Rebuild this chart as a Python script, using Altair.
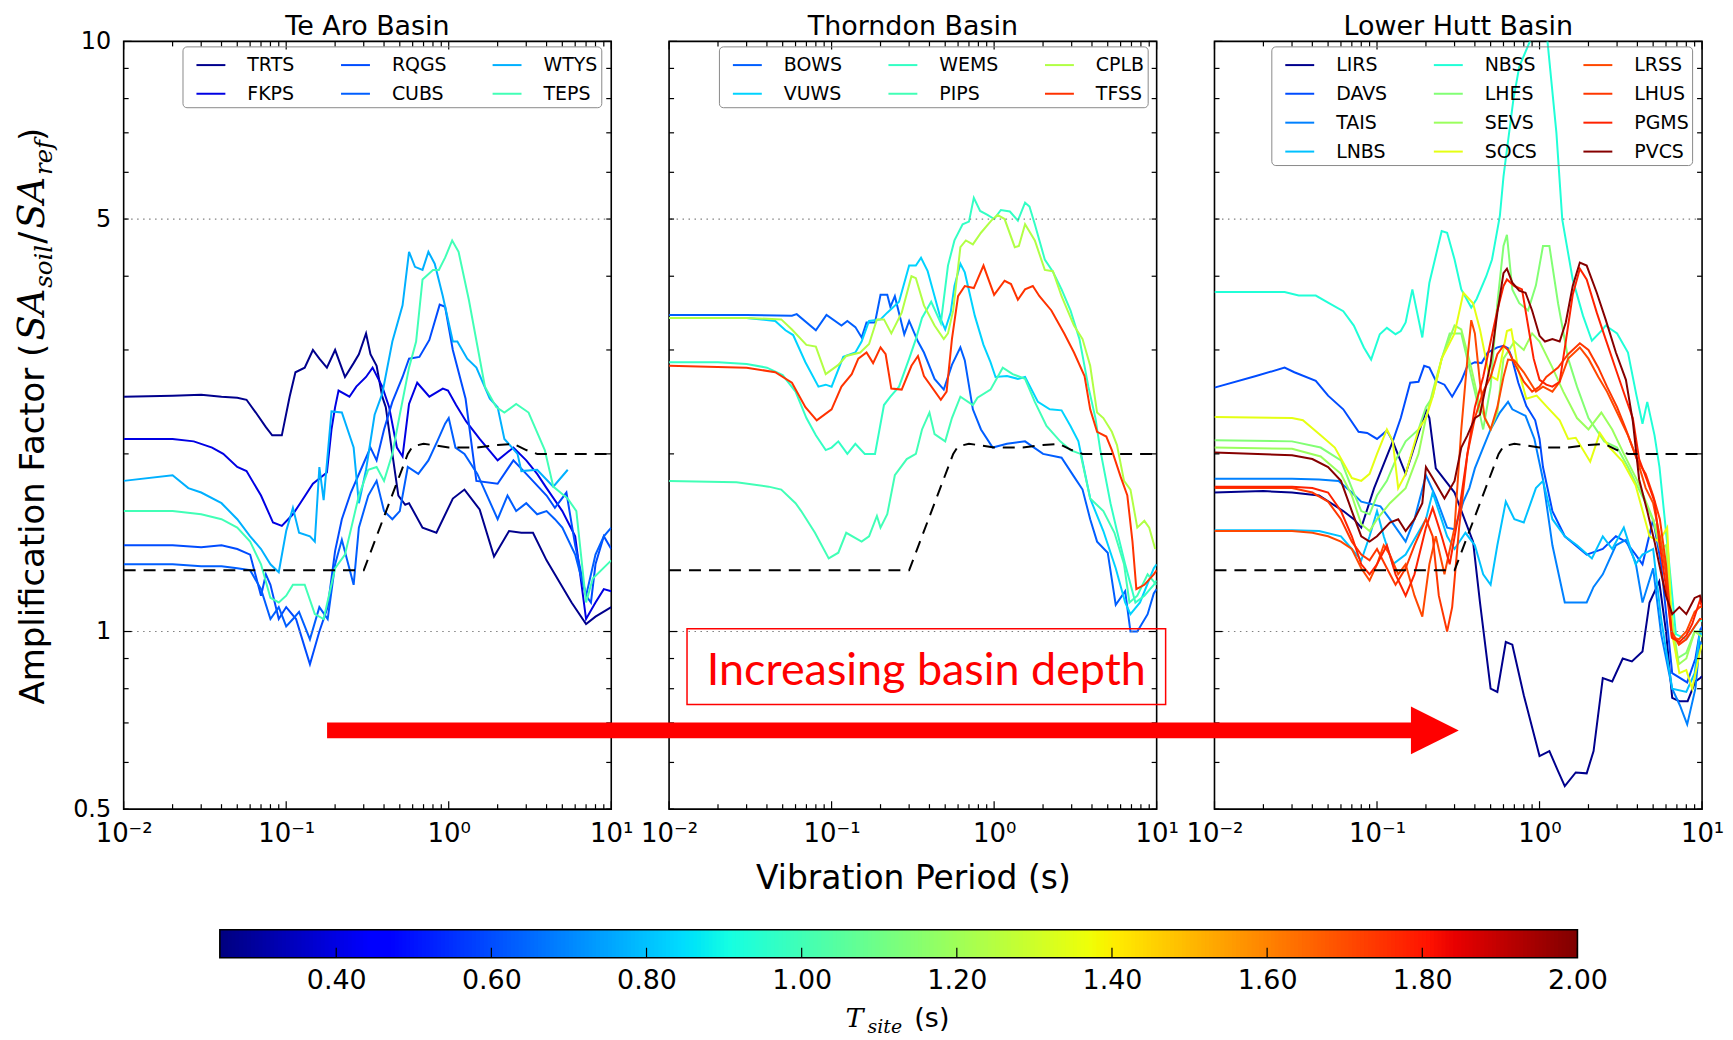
import altair as alt
import numpy as np
import pandas as pd

# ------------------------------------------------------------------ data
# (period [s], amplification factor)
TRTS = [(0.01,2.5),(0.02,2.51),(0.03,2.52),(0.04,2.5),(0.05,2.49),(0.057,2.47),(0.065,2.35),(0.075,2.22),(0.082,2.15),(0.094,2.15),(0.105,2.5),(0.114,2.75),(0.13,2.8),(0.146,3.0),(0.16,2.9),(0.178,2.8),(0.2,3.0),(0.23,2.7),(0.26,2.85),(0.28,2.95),(0.31,3.2),(0.33,2.95),(0.36,2.82),(0.39,2.5),(0.41,2.4),(0.45,2.0),(0.49,1.7),(0.54,1.64),(0.57,1.65),(0.69,1.5),(0.84,1.47),(1.06,1.68),(1.25,1.74),(1.55,1.61),(1.9,1.34),(2.35,1.48),(2.8,1.47),(3.3,1.47),(4.0,1.32),(5.7,1.12),(7.0,1.03),(8.0,1.06),(10.0,1.1)]
FKPS = [(0.01,2.12),(0.02,2.12),(0.027,2.1),(0.035,2.05),(0.041,2.0),(0.05,1.9),(0.057,1.87),(0.07,1.7),(0.083,1.53),(0.094,1.51),(0.11,1.58),(0.122,1.65),(0.146,1.78),(0.178,1.86),(0.19,2.2),(0.2,2.4),(0.21,2.56),(0.245,2.5),(0.27,2.6),(0.31,2.7),(0.34,2.8),(0.39,2.6),(0.43,2.4),(0.48,2.05),(0.52,1.98),(0.57,2.43),(0.64,2.64),(0.76,2.5),(0.92,2.58),(0.99,2.56),(1.11,2.42),(1.28,2.27),(1.55,2.12),(2.0,1.95),(2.5,2.05),(3.0,1.95),(3.5,1.85),(4.0,1.75),(5.0,1.6),(6.0,1.45),(7.0,1.05),(8.0,1.12),(9.0,1.18),(10.0,1.17)]
RQGS = [(0.01,1.4),(0.02,1.4),(0.03,1.39),(0.04,1.4),(0.05,1.38),(0.06,1.35),(0.07,1.15),(0.075,1.25),(0.08,1.2),(0.09,1.05),(0.1,1.1),(0.115,1.05),(0.13,0.94),(0.14,0.88),(0.16,1.0),(0.18,1.1),(0.2,1.37),(0.22,1.55),(0.25,1.72),(0.3,1.93),(0.33,2.05),(0.36,1.95),(0.4,2.2),(0.45,2.45),(0.52,2.7),(0.57,2.9),(0.66,2.92),(0.76,3.12),(0.88,3.58),(0.95,3.55),(1.06,3.0),(1.27,2.48),(1.48,1.8),(2.0,1.78),(2.5,1.95),(3.0,1.85),(4.0,1.7),(4.5,1.62),(5.3,1.72),(6.0,1.4),(7.0,1.15),(7.5,1.12),(8.0,1.3),(9.0,1.45),(10.0,1.38)]
CUBS = [(0.01,1.3),(0.02,1.3),(0.03,1.29),(0.04,1.29),(0.05,1.28),(0.06,1.27),(0.07,1.18),(0.08,1.05),(0.09,1.1),(0.1,1.02),(0.11,1.05),(0.12,1.08),(0.14,0.97),(0.16,1.1),(0.18,1.05),(0.2,1.3),(0.22,1.43),(0.26,1.2),(0.28,1.5),(0.32,1.7),(0.36,1.8),(0.4,1.6),(0.45,1.55),(0.5,1.6),(0.56,1.9),(0.65,1.85),(0.75,1.95),(0.85,2.1),(0.95,2.25),(1.0,2.3),(1.1,2.05),(1.25,2.0),(1.5,1.85),(2.0,1.55),(2.3,1.7),(2.6,1.6),(3.0,1.65),(3.5,1.58),(4.0,1.6),(4.5,1.55),(5.0,1.5),(6.0,1.35),(7.0,1.15),(8.0,1.35),(9.0,1.45),(10.0,1.5)]
WTYS = [(0.01,1.8),(0.02,1.84),(0.025,1.75),(0.03,1.72),(0.04,1.65),(0.05,1.55),(0.06,1.45),(0.07,1.38),(0.08,1.3),(0.09,1.26),(0.1,1.48),(0.11,1.62),(0.12,1.47),(0.14,1.45),(0.15,1.42),(0.16,1.9),(0.17,1.67),(0.19,2.36),(0.22,2.35),(0.26,2.05),(0.28,1.65),(0.31,1.88),(0.35,2.33),(0.39,2.53),(0.45,3.1),(0.52,3.57),(0.57,4.4),(0.62,4.15),(0.69,4.1),(0.75,4.4),(0.82,4.2),(0.92,3.7),(1.06,3.1),(1.13,3.1),(1.3,2.9),(1.48,2.8),(1.79,2.48),(2.0,2.4),(2.2,2.12),(2.65,2.0),(2.8,1.87),(3.5,1.88),(4.4,1.76),(5.4,1.88)]
TEPS = [(0.01,1.6),(0.02,1.6),(0.03,1.58),(0.04,1.55),(0.05,1.5),(0.06,1.42),(0.07,1.3),(0.08,1.14),(0.09,1.12),(0.1,1.15),(0.11,1.2),(0.13,1.2),(0.15,1.07),(0.17,1.05),(0.2,1.28),(0.23,1.35),(0.28,1.7),(0.32,1.88),(0.36,1.9),(0.4,1.8),(0.45,2.0),(0.5,2.33),(0.57,2.8),(0.63,3.1),(0.69,3.95),(0.8,4.1),(0.87,4.1),(0.95,4.3),(1.05,4.6),(1.15,4.4),(1.33,3.65),(1.5,3.05),(1.67,2.6),(1.96,2.4),(2.2,2.35),(2.6,2.43),(3.1,2.35),(3.9,2.03),(4.4,1.76),(5.4,1.68),(6.1,1.6),(7.0,1.12),(7.7,1.23),(10.0,1.32)]

BOWS = [(0.01,3.44),(0.03,3.44),(0.057,3.43),(0.061,3.45),(0.08,3.24),(0.093,3.44),(0.115,3.3),(0.125,3.36),(0.14,3.28),(0.153,3.15),(0.164,3.34),(0.185,3.34),(0.2,3.72),(0.22,3.72),(0.23,3.55),(0.245,3.7),(0.28,3.19),(0.3,3.36),(0.34,3.1),(0.37,2.97),(0.43,2.68),(0.49,2.57),(0.55,2.83),(0.62,3.03),(0.66,2.88),(0.74,2.38),(0.83,2.2),(0.98,2.05),(1.2,2.08),(1.55,2.1),(2.0,2.0),(2.6,1.97),(3.1,1.83),(3.5,1.74),(3.9,1.55),(4.3,1.42),(5.0,1.36),(5.6,1.11),(6.4,1.17),(6.9,1.0),(7.6,1.0),(8.8,1.07),(9.6,1.16),(10.0,1.18)]
VUWS = [(0.01,3.4),(0.03,3.4),(0.045,3.36),(0.052,3.24),(0.058,3.18),(0.069,2.86),(0.083,2.6),(0.092,2.62),(0.1,2.6),(0.118,2.92),(0.14,2.97),(0.153,3.1),(0.17,3.36),(0.2,3.38),(0.22,3.47),(0.26,3.62),(0.3,4.17),(0.33,4.17),(0.355,4.3),(0.39,4.08),(0.43,3.7),(0.47,3.38),(0.5,3.25),(0.54,3.47),(0.57,3.85),(0.62,4.2),(0.66,4.06),(0.76,3.43),(0.86,3.06),(0.95,2.86),(1.02,2.7),(1.2,2.71),(1.4,2.68),(1.55,2.7),(1.86,2.45),(2.2,2.38),(2.6,2.37),(2.95,2.23),(3.3,2.1),(3.9,1.68),(4.7,1.48),(5.6,1.28),(6.4,1.12),(6.9,1.07),(7.9,1.12),(9.6,1.28),(10.0,1.3)]
WEMS = [(0.01,2.86),(0.02,2.86),(0.03,2.84),(0.04,2.8),(0.05,2.72),(0.06,2.55),(0.07,2.3),(0.08,2.15),(0.092,2.03),(0.1,2.05),(0.11,2.1),(0.125,2.0),(0.14,2.08),(0.16,2.0),(0.185,2.0),(0.21,2.42),(0.23,2.5),(0.26,2.6),(0.3,2.9),(0.33,3.13),(0.36,3.4),(0.41,3.62),(0.47,3.33),(0.52,4.17),(0.57,4.6),(0.64,4.9),(0.7,4.95),(0.75,5.43),(0.82,5.16),(0.91,5.08),(1.0,5.0),(1.1,5.18),(1.25,5.15),(1.4,4.97),(1.55,5.33),(1.65,5.25),(1.78,4.9),(2.05,4.27),(2.3,4.07),(2.6,3.8),(2.95,3.5),(3.35,3.13),(3.8,2.6),(4.2,2.3),(4.5,2.03),(5.2,1.65),(5.7,1.48),(6.4,1.3),(7.4,1.12),(8.4,1.15),(9.6,1.2),(10.0,1.22)]
PIPS = [(0.01,1.8),(0.026,1.79),(0.041,1.76),(0.049,1.74),(0.06,1.65),(0.065,1.6),(0.079,1.47),(0.096,1.33),(0.11,1.36),(0.123,1.47),(0.153,1.42),(0.17,1.45),(0.19,1.57),(0.2,1.5),(0.22,1.58),(0.245,1.84),(0.29,1.96),(0.33,2.0),(0.36,2.2),(0.4,2.35),(0.43,2.16),(0.5,2.1),(0.55,2.3),(0.62,2.5),(0.74,2.42),(0.79,2.49),(0.95,2.57),(1.13,2.8),(1.3,2.73),(1.55,2.68),(1.78,2.45),(2.1,2.23),(2.55,2.1),(2.95,2.03),(3.4,2.0),(3.9,1.68),(4.7,1.6),(5.5,1.47),(6.3,1.3),(6.8,1.12),(7.6,1.15),(8.8,1.25),(10.0,1.2)]
CPLB = [(0.01,3.4),(0.03,3.4),(0.049,3.38),(0.057,3.25),(0.07,3.06),(0.08,3.04),(0.092,2.73),(0.11,2.83),(0.123,2.93),(0.15,2.97),(0.17,3.07),(0.19,3.38),(0.21,3.38),(0.233,3.2),(0.27,3.47),(0.31,4.0),(0.33,3.97),(0.37,3.57),(0.43,3.3),(0.49,3.13),(0.52,3.2),(0.56,3.5),(0.62,4.48),(0.67,4.6),(0.74,4.53),(0.83,4.74),(0.96,4.97),(1.05,5.08),(1.16,5.0),(1.34,4.48),(1.42,4.5),(1.55,4.9),(1.78,4.6),(2.05,4.1),(2.3,4.08),(2.6,3.7),(3.1,3.3),(3.5,3.13),(3.9,2.82),(4.3,2.35),(4.7,2.3),(5.3,2.18),(5.7,2.07),(6.3,1.8),(6.9,1.74),(7.6,1.5),(8.4,1.54),(9.0,1.5),(9.8,1.38)]
TFSS = [(0.01,2.82),(0.03,2.8),(0.045,2.75),(0.057,2.64),(0.069,2.4),(0.081,2.28),(0.1,2.38),(0.115,2.6),(0.133,2.73),(0.146,2.9),(0.164,2.97),(0.18,2.85),(0.2,3.03),(0.215,2.95),(0.233,2.58),(0.27,2.57),(0.31,2.82),(0.34,2.93),(0.37,2.71),(0.47,2.47),(0.51,2.55),(0.55,3.13),(0.6,3.7),(0.66,3.85),(0.75,3.82),(0.86,4.17),(1.0,3.72),(1.16,3.93),(1.27,3.88),(1.4,3.65),(1.55,3.8),(1.73,3.85),(1.9,3.7),(2.25,3.5),(2.7,3.2),(3.1,2.97),(3.6,2.71),(3.9,2.38),(4.3,2.18),(4.9,2.14),(5.3,2.03),(6.0,1.83),(6.6,1.7),(7.1,1.42),(7.5,1.18),(8.4,1.2),(9.6,1.25),(10.0,1.27)]

LIRS = [(0.01,1.72),(0.02,1.73),(0.03,1.72),(0.044,1.7),(0.062,1.6),(0.072,1.55),(0.08,1.5),(0.096,1.75),(0.125,2.1),(0.15,1.85),(0.2,2.37),(0.21,2.3),(0.23,1.89),(0.3,1.72),(0.35,1.535),(0.39,1.42),(0.43,1.12),(0.5,0.8),(0.55,0.79),(0.62,0.96),(0.68,0.95),(0.8,0.78),(1.0,0.615),(1.15,0.627),(1.3,0.58),(1.43,0.547),(1.67,0.577),(1.95,0.575),(2.15,0.627),(2.45,0.834),(2.8,0.823),(3.25,0.9),(3.7,0.89),(4.3,0.925),(4.75,1.12),(5.45,1.215),(6.0,1.0),(6.55,0.772),(7.25,0.762),(8.15,0.762),(9.1,0.823),(9.75,0.834),(10.0,0.84)]
DAVS = [(0.01,2.59),(0.018,2.71),(0.027,2.8),(0.031,2.75),(0.042,2.66),(0.05,2.51),(0.062,2.38),(0.077,2.18),(0.087,2.17),(0.1,2.12),(0.115,2.19),(0.125,2.1),(0.14,2.3),(0.16,2.64),(0.18,2.65),(0.195,2.82),(0.21,2.8),(0.23,2.66),(0.26,2.62),(0.29,2.5),(0.33,2.66),(0.36,2.82),(0.4,2.86),(0.44,2.85),(0.48,2.97),(0.55,3.03),(0.6,3.05),(0.64,3.02),(0.67,2.93),(0.74,2.64),(0.83,2.41),(0.94,2.28),(1.0,2.12),(1.05,1.9),(1.2,1.6),(1.43,1.45),(1.95,1.35),(2.45,1.38),(2.95,1.45),(3.4,1.42),(3.9,1.35),(4.3,1.3),(5.0,1.55),(5.6,1.3),(6.55,0.85),(8.1,0.82),(9.1,0.9),(9.7,1.0),(10.0,1.02)]
TAIS = [(0.01,1.815),(0.03,1.815),(0.044,1.81),(0.058,1.8),(0.07,1.72),(0.08,1.66),(0.105,1.63),(0.12,1.55),(0.15,1.42),(0.17,1.55),(0.2,1.84),(0.23,1.69),(0.27,1.5),(0.3,1.49),(0.34,1.66),(0.37,1.75),(0.4,1.89),(0.45,2.05),(0.5,2.2),(0.57,2.35),(0.64,2.45),(0.68,2.38),(0.82,2.32),(0.93,2.12),(1.05,1.81),(1.2,1.4),(1.43,1.12),(1.95,1.12),(2.15,1.19),(2.45,1.25),(2.95,1.4),(3.4,1.43),(3.9,1.31),(4.3,1.12),(5.0,1.28),(5.6,0.99),(6.55,0.8),(7.3,0.75),(8.1,0.696),(9.1,0.8),(9.7,0.96),(10.0,0.95)]
LNBS = [(0.01,1.485),(0.03,1.485),(0.044,1.48),(0.06,1.45),(0.07,1.38),(0.08,1.32),(0.09,1.45),(0.1,1.6),(0.11,1.45),(0.125,1.3),(0.15,1.35),(0.2,1.55),(0.22,1.72),(0.27,1.45),(0.3,1.38),(0.35,1.47),(0.4,1.4),(0.45,1.25),(0.5,1.2),(0.55,1.4),(0.62,1.66),(0.7,1.55),(0.8,1.53),(0.95,1.75),(1.05,1.8),(1.2,1.55),(1.43,1.45),(1.7,1.4),(2.1,1.33),(2.45,1.45),(2.8,1.38),(3.3,1.5),(3.9,1.3),(4.3,1.35),(5.0,1.38),(5.6,1.05),(6.55,0.8),(8.0,0.79),(9.0,0.85),(9.7,1.0),(10.0,0.98)]
NBSS = [(0.01,3.76),(0.027,3.76),(0.033,3.71),(0.042,3.71),(0.05,3.61),(0.062,3.49),(0.072,3.3),(0.083,3.03),(0.092,2.89),(0.104,3.19),(0.115,3.27),(0.13,3.19),(0.14,3.23),(0.15,3.34),(0.165,3.8),(0.19,3.15),(0.21,3.9),(0.25,4.77),(0.27,4.74),(0.3,4.27),(0.33,3.8),(0.38,3.54),(0.41,3.66),(0.47,4.0),(0.51,4.27),(0.57,5.06),(0.6,5.9),(0.69,7.96),(0.75,9.06),(0.94,10.5),(1.0,12.0),(1.1,10.5),(1.27,7.0),(1.38,4.99),(1.6,3.95),(1.85,3.43),(2.1,3.11),(2.45,3.25),(2.55,3.3),(3.0,3.2),(3.5,2.97),(3.95,2.51),(4.3,2.25),(4.6,2.45),(5.1,2.15),(5.47,1.9),(6.2,1.35),(6.9,0.99),(8.0,0.97),(9.7,1.05),(10.0,1.04)]
LHES = [(0.01,2.11),(0.03,2.1),(0.045,2.05),(0.06,1.95),(0.07,1.75),(0.08,1.6),(0.09,1.58),(0.1,1.7),(0.115,1.8),(0.13,1.95),(0.15,2.1),(0.18,2.2),(0.2,2.4),(0.22,2.5),(0.25,2.9),(0.28,3.2),(0.33,3.2),(0.4,2.55),(0.45,2.2),(0.5,2.6),(0.55,3.6),(0.6,4.5),(0.63,4.7),(0.68,3.8),(0.75,3.6),(0.85,3.5),(0.95,3.86),(1.05,4.5),(1.15,4.5),(1.3,3.6),(1.5,2.9),(1.7,2.6),(2.0,2.3),(2.5,2.1),(3.0,2.05),(3.5,1.9),(4.5,1.65),(5.5,1.45),(6.0,1.3),(7.0,0.9),(8.0,0.92),(9.0,1.0),(10.0,1.0)]
SEVS = [(0.01,2.05),(0.03,2.04),(0.045,1.98),(0.06,1.85),(0.07,1.7),(0.08,1.52),(0.09,1.48),(0.1,1.55),(0.12,1.65),(0.15,1.75),(0.18,2.0),(0.2,2.3),(0.22,2.55),(0.25,2.9),(0.3,3.3),(0.33,3.25),(0.38,2.8),(0.43,2.4),(0.5,2.2),(0.55,2.35),(0.6,2.9),(0.7,3.1),(0.8,3.0),(0.9,3.2),(1.0,3.1),(1.2,2.8),(1.4,2.55),(1.7,2.3),(2.0,2.2),(2.4,2.35),(2.8,2.2),(3.3,2.0),(4.0,1.8),(5.0,1.55),(5.5,1.38),(6.0,1.4),(6.5,1.05),(7.2,0.88),(8.0,0.9),(9.0,1.0),(10.0,0.98)]
SOCS = [(0.01,2.31),(0.03,2.3),(0.035,2.28),(0.045,2.15),(0.055,2.05),(0.07,1.82),(0.08,1.8),(0.09,1.85),(0.1,2.0),(0.115,2.2),(0.125,2.1),(0.135,1.75),(0.15,1.85),(0.18,2.2),(0.2,2.3),(0.22,2.5),(0.25,2.9),(0.3,3.2),(0.34,3.75),(0.39,3.6),(0.43,3.25),(0.49,2.72),(0.55,2.67),(0.63,3.23),(0.67,3.25),(0.74,2.78),(0.83,2.48),(0.96,2.51),(1.1,2.41),(1.33,2.28),(1.5,2.12),(1.67,2.13),(2.05,1.94),(2.35,2.17),(2.7,2.05),(3.25,1.94),(3.9,1.77),(4.75,1.45),(5.45,1.42),(6.1,1.5),(6.55,0.99),(7.25,0.85),(8.0,0.86),(8.7,0.8),(9.7,0.925),(10.0,0.95)]
LRSS = [(0.01,1.48),(0.03,1.48),(0.04,1.47),(0.05,1.45),(0.06,1.42),(0.07,1.38),(0.08,1.28),(0.09,1.22),(0.1,1.3),(0.11,1.4),(0.12,1.35),(0.135,1.25),(0.15,1.3),(0.17,1.15),(0.19,1.06),(0.21,1.3),(0.23,1.45),(0.26,1.25),(0.3,1.5),(0.33,2.2),(0.36,2.9),(0.38,3.37),(0.4,3.2),(0.43,2.64),(0.46,2.3),(0.5,2.2),(0.55,2.4),(0.6,2.7),(0.64,2.89),(0.7,2.88),(0.8,2.75),(0.95,2.55),(1.05,2.6),(1.2,2.55),(1.33,2.65),(1.5,2.9),(1.77,3.03),(2.0,2.9),(2.3,2.7),(2.6,2.55),(3.0,2.35),(3.5,2.15),(4.0,1.95),(4.5,1.75),(5.0,1.65),(5.5,1.45),(6.0,1.25),(6.5,0.98),(7.2,0.97),(8.0,1.0),(9.0,1.08),(9.7,1.1),(10.0,1.1)]
LHUS = [(0.01,1.75),(0.03,1.75),(0.04,1.72),(0.05,1.66),(0.06,1.55),(0.07,1.42),(0.08,1.35),(0.09,1.32),(0.1,1.38),(0.115,1.28),(0.13,1.2),(0.15,1.28),(0.17,1.4),(0.2,1.55),(0.22,1.45),(0.24,1.15),(0.27,1.0),(0.29,1.1),(0.32,1.5),(0.36,2.0),(0.4,2.3),(0.45,2.55),(0.5,2.7),(0.55,2.95),(0.6,3.05),(0.64,3.0),(0.7,2.85),(0.8,2.65),(0.9,2.55),(1.0,2.6),(1.1,2.7),(1.3,2.8),(1.5,2.95),(1.77,3.08),(2.0,3.0),(2.3,2.8),(2.6,2.6),(3.0,2.4),(3.4,2.2),(4.0,1.95),(4.5,1.85),(5.0,1.7),(5.5,1.55),(6.0,1.3),(6.5,1.0),(7.2,0.95),(8.0,0.97),(9.0,1.02),(9.7,1.05),(10.0,1.05)]
PGMS = [(0.01,1.76),(0.03,1.76),(0.04,1.75),(0.05,1.72),(0.06,1.6),(0.07,1.45),(0.08,1.3),(0.09,1.25),(0.1,1.3),(0.115,1.4),(0.13,1.25),(0.15,1.15),(0.17,1.25),(0.2,1.5),(0.22,1.62),(0.25,1.45),(0.28,1.3),(0.32,1.6),(0.36,2.0),(0.4,2.4),(0.45,2.7),(0.5,3.1),(0.55,3.5),(0.6,3.85),(0.63,3.95),(0.7,3.85),(0.78,3.8),(0.85,3.3),(0.92,2.9),(1.0,2.67),(1.1,2.62),(1.2,2.6),(1.33,2.65),(1.45,3.1),(1.6,3.72),(1.77,4.12),(1.95,3.95),(2.25,3.47),(2.55,3.13),(2.95,2.78),(3.4,2.48),(3.75,2.3),(4.1,1.96),(4.6,1.8),(5.1,1.66),(5.45,1.42),(6.0,1.19),(6.55,0.975),(7.25,0.96),(8.0,0.985),(8.7,1.03),(9.7,1.13),(10.0,1.1)]
PVCS = [(0.01,2.01),(0.03,1.99),(0.04,1.96),(0.05,1.9),(0.06,1.8),(0.07,1.6),(0.08,1.45),(0.09,1.42),(0.1,1.45),(0.12,1.53),(0.135,1.55),(0.15,1.48),(0.17,1.55),(0.19,1.65),(0.2,1.9),(0.22,1.82),(0.26,1.68),(0.3,1.8),(0.33,2.05),(0.36,2.15),(0.4,2.3),(0.43,2.33),(0.5,2.85),(0.55,3.47),(0.6,4.05),(0.63,4.12),(0.68,3.9),(0.75,3.78),(0.82,3.75),(0.9,3.5),(1.0,3.17),(1.08,3.1),(1.2,3.13),(1.33,3.1),(1.45,3.34),(1.6,3.85),(1.77,4.22),(1.95,4.17),(2.25,3.75),(2.55,3.38),(2.95,2.97),(3.4,2.67),(3.75,2.27),(4.1,1.81),(4.6,1.6),(5.1,1.42),(5.45,1.3),(6.0,1.15),(6.55,1.07),(7.25,1.1),(8.0,1.07),(9.0,1.14),(9.7,1.15),(10.0,1.12)]

# code-based design spectrum ratio (dashed black line), same in every panel
REF_CURVE = [(0.01,1.27),(0.3,1.27),(0.56,2.0),(0.6,2.06),(0.7,2.08),(0.8,2.07),(1.0,2.05),(1.5,2.05),(2.0,2.07),(2.5,2.08),(3.0,2.03),(3.5,2.0),(10.0,2.0)]

# site period of every station (sets its colour on the jet colour map)
T_SITE = {"TRTS":0.27,"FKPS":0.40,"RQGS":0.60,"CUBS":0.63,"WTYS":0.77,"TEPS":1.00,
          "BOWS":0.63,"VUWS":0.83,"WEMS":0.97,"PIPS":1.00,"CPLB":1.24,"TFSS":1.75,
          "LIRS":0.27,"DAVS":0.60,"TAIS":0.69,"LNBS":0.80,"NBSS":0.93,"LHES":1.14,
          "SEVS":1.19,"SOCS":1.35,"LRSS":1.71,"LHUS":1.74,"PGMS":1.78,"PVCS":1.99}

PANEL_TITLES = ["Te Aro Basin", "Thorndon Basin", "Lower Hutt Basin"]
TE_ARO = ["TRTS","FKPS","RQGS","CUBS","WTYS","TEPS"]
THORNDON = ["BOWS","VUWS","WEMS","PIPS","CPLB","TFSS"]
LOWER_HUTT = ["LIRS","DAVS","TAIS","LNBS","NBSS","LHES","SEVS","SOCS","LRSS","LHUS","PGMS","PVCS"]
CURVES = {"TRTS":TRTS,"FKPS":FKPS,"RQGS":RQGS,"CUBS":CUBS,"WTYS":WTYS,"TEPS":TEPS,
          "BOWS":BOWS,"VUWS":VUWS,"WEMS":WEMS,"PIPS":PIPS,"CPLB":CPLB,"TFSS":TFSS,
          "LIRS":LIRS,"DAVS":DAVS,"TAIS":TAIS,"LNBS":LNBS,"NBSS":NBSS,"LHES":LHES,
          "SEVS":SEVS,"SOCS":SOCS,"LRSS":LRSS,"LHUS":LHUS,"PGMS":PGMS,"PVCS":PVCS}

X_MAJOR = [0.01, 0.1, 1, 10]
X_MINOR = [round(k * 10.0 ** e, 4) for e in (-2, -1, 0) for k in range(2, 10)]
Y_MAJOR = [1, 10]
Y_MINOR = [0.5, 0.6, 0.7, 0.8, 0.9, 2, 3, 4, 5, 6, 7, 8, 9]
Y_LABELS = [0.5, 1, 5, 10]
Y_DOTTED = [1, 5]
CBAR_RANGE = [0.25, 2.0]
CBAR_TICKS = [0.4, 0.6, 0.8, 1.0, 1.2, 1.4, 1.6, 1.8, 2.0]

# ------------------------------------------------------------------ helpers
_JET = {"r": [(0, 0), (0.35, 0), (0.66, 1), (0.89, 1), (1, 0.5)],
        "g": [(0, 0), (0.125, 0), (0.375, 1), (0.64, 1), (0.91, 0), (1, 0)],
        "b": [(0, 0.5), (0.11, 1), (0.34, 1), (0.65, 0), (1, 0)]}


def jet(t):
    t = min(max(t, 0.0), 1.0)
    rgb = []
    for ch in "rgb":
        xs = [p[0] for p in _JET[ch]]
        ys = [p[1] for p in _JET[ch]]
        rgb.append(int(round(255 * float(np.interp(t, xs, ys)))))
    return "#%02x%02x%02x" % tuple(rgb)


def tcolor(T):
    return jet((T - CBAR_RANGE[0]) / (CBAR_RANGE[1] - CBAR_RANGE[0]))


FONT = "DejaVu Sans"
W, H = 489, 770
XS = alt.Scale(type="log", domain=[0.01, 10], nice=False)
YS = alt.Scale(type="log", domain=[0.5, 10], nice=False)
ONE = pd.DataFrame({"a": [0]})

X_LABEL_EXPR = ("datum.value < 0.05 ? '10\u207b\u00b2' : datum.value < 0.5 ? '10\u207b\u00b9' : "
                "datum.value < 5 ? '10\u2070' : '10\u00b9'")


def make_panel(idx, stations, legend_x):
    rows = []
    for name in stations:
        for p, a in CURVES[name]:
            rows.append({"station": name, "period": p, "amp": a})
    df = pd.DataFrame(rows)
    colors = [tcolor(T_SITE[s]) for s in stations]

    xaxis_kw = dict(values=X_MAJOR, labelExpr=X_LABEL_EXPR, ticks=False, tickSize=0, domain=False,
                    grid=False, labelFontSize=26, labelFont=FONT, labelPadding=11, labelFlush=False,
                    labelOverlap=False, labelColor="black")
    if idx == 1:
        xaxis_kw.update(title="Vibration Period (s)", titleFontSize=33, titleFont=FONT,
                        titleFontWeight="normal", titlePadding=17, titleColor="black")
    else:
        xaxis_kw.update(title=None)
    xenc = alt.X("period:Q", scale=XS, axis=alt.Axis(**xaxis_kw))

    if idx == 0:
        yenc = alt.Y("amp:Q", scale=YS, axis=alt.Axis(values=Y_LABELS, format="~g", ticks=False, tickSize=0,
                                                      domain=False, grid=False, labelFontSize=24, labelFont=FONT,
                                                      labelPadding=13, labelOverlap=False, labelFlush=False,
                                                      labelColor="black", title=None))
    else:
        yenc = alt.Y("amp:Q", scale=YS, axis=None)

    legend = alt.Legend(title=None, orient="none", legendX=legend_x, legendY=5, columns=3,
                        symbolType="stroke", symbolSize=841, symbolStrokeWidth=2,
                        labelFontSize=19, labelFont=FONT, labelColor="black", labelOffset=21,
                        columnPadding=35, rowPadding=3, padding=3, symbolOffset=10,
                        strokeColor="#8a8a8a", cornerRadius=4)

    lines = alt.Chart(df).mark_line(strokeWidth=2, clip=True).encode(
        x=xenc, y=yenc,
        color=alt.Color("station:N", scale=alt.Scale(domain=stations, range=colors), legend=legend),
        order=alt.Order("period:Q"),
    )
    dotted = alt.Chart(pd.DataFrame({"amp": Y_DOTTED})).mark_rule(
        color="#808080", strokeDash=[1.5, 4.5], strokeWidth=1.2).encode(y=yenc)
    ref = pd.DataFrame(REF_CURVE, columns=["period", "amp"])
    dashed = alt.Chart(ref).mark_line(color="black", strokeDash=[12, 8], strokeWidth=2).encode(x=xenc, y=yenc)

    layers = [lines, dotted, dashed]
    # inward ticks on all four sides (major longer than minor)
    for vals, ln in ((X_MAJOR, 8), (X_MINOR, 5)):
        b = alt.Chart(pd.DataFrame({"period": vals})).mark_rule(color="black", strokeWidth=1.2)
        layers.append(b.encode(x=xenc, y=alt.value(H), y2=alt.value(H - ln)))
        layers.append(b.encode(x=xenc, y=alt.value(0), y2=alt.value(ln)))
    for vals, ln in ((Y_MAJOR, 8), (Y_MINOR, 5)):
        b = alt.Chart(pd.DataFrame({"amp": vals})).mark_rule(color="black", strokeWidth=1.2)
        layers.append(b.encode(y=yenc, x=alt.value(0), x2=alt.value(ln)))
        layers.append(b.encode(y=yenc, x=alt.value(W), x2=alt.value(W - ln)))

    if idx == 0:
        # y-axis title built from pieces (upright text + math italics with subscripts)
        pieces = [("Amplification Factor (", "DejaVu Sans", 34, "normal", -80, 665),
                  ("SA", "DejaVu Serif", 37, "italic", -80, 300),
                  ("soil", "DejaVu Serif", 24.5, "italic", -72, 247),
                  ("/", "DejaVu Sans", 36, "normal", -80, 203),
                  ("SA", "DejaVu Serif", 37, "italic", -80, 188),
                  ("ref", "DejaVu Serif", 24.5, "italic", -72, 134),
                  (")", "DejaVu Sans", 34, "normal", -80, 100)]
        for txt, f, s, st, xv, yv in pieces:
            layers.append(alt.Chart(ONE).mark_text(text=txt, font=f, fontSize=s, fontStyle=st, angle=270,
                                                   align="left", baseline="alphabetic", color="black")
                          .encode(x=alt.value(xv), y=alt.value(yv)))

    if idx == 2:
        red = "#ff0000"
        layers.append(alt.Chart(ONE).mark_rule(color=red, strokeWidth=16).encode(
            x=alt.value(-890), x2=alt.value(200), y=alt.value(691)))
        layers.append(alt.Chart(ONE).mark_point(shape="M -1 -1 L 1 0 L -1 1 Z", filled=True, color=red,
                                                size=2304, opacity=1).encode(x=alt.value(221), y=alt.value(691)))
        layers.append(alt.Chart(ONE).mark_rect(fillOpacity=0, stroke=red, strokeWidth=1.5).encode(
            x=alt.value(-529), x2=alt.value(-49), y=alt.value(589), y2=alt.value(665)))
        layers.append(alt.Chart(ONE).mark_text(text="Increasing basin depth", font="Lato", fontSize=45,
                                               color=red, align="center", baseline="alphabetic").encode(
            x=alt.value(-289), y=alt.value(645)))

    # panel 1 carries the "10" tick label above its frame, which lifts its title; compensate
    title_offset = -12 if idx == 0 else 0
    return alt.layer(*layers).properties(
        width=W, height=H,
        title=alt.TitleParams(text=PANEL_TITLES[idx], fontSize=27, font=FONT, fontWeight="normal",
                              offset=title_offset, anchor="middle", frame="group", color="black"),
        view=alt.ViewBackground(stroke="black", strokeWidth=1.6, strokeOpacity=1),
    )


p1 = make_panel(0, TE_ARO, 59)
p2 = make_panel(1, THORNDON, 50)
p3 = make_panel(2, LOWER_HUTT, 57)

panels = alt.hconcat(p1, p2, p3, spacing=58, bounds="flush").resolve_scale(
    color="independent", x="independent", y="independent")

# ------------------------------------------------------------------ colour bar
CB_W, CB_H = 1458, 28
step = 0.005
samples = np.arange(CBAR_RANGE[0], CBAR_RANGE[1] - 1e-9, step)
cb_df = pd.DataFrame({"x0": samples, "x1": np.minimum(samples + step * 1.3, CBAR_RANGE[1]),
                      "c": [tcolor(v + step / 2) for v in samples]})
CX = alt.Scale(domain=[0.126, 2.0], nice=False, zero=False)
cxenc = alt.X("x0:Q", scale=CX, axis=alt.Axis(values=CBAR_TICKS, format=".2f", ticks=False, tickSize=0,
                                             domain=False, grid=False, labelFontSize=27, labelFont=FONT,
                                             labelPadding=10, labelFlush=False, labelOverlap=False,
                                             labelColor="black", title=None))

cb_rects = alt.Chart(cb_df).mark_rect().encode(
    x=cxenc, x2="x1:Q", y=alt.value(0), y2=alt.value(CB_H),
    color=alt.Color("c:N", scale=None),
)
cb_frame = alt.Chart(pd.DataFrame({"x0": [CBAR_RANGE[0]], "x1": [CBAR_RANGE[1]]})).mark_rect(
    fillOpacity=0, stroke="black", strokeWidth=1.6).encode(
    x=cxenc, x2="x1:Q", y=alt.value(0), y2=alt.value(CB_H))
cb_ticks = alt.Chart(pd.DataFrame({"x0": CBAR_TICKS})).mark_rule(color="black", strokeWidth=1.2).encode(
    x=cxenc, y=alt.value(CB_H), y2=alt.value(CB_H - 10))
cb_title = [("T", "DejaVu Serif", 27, "italic", 724, 97),
            ("site", "DejaVu Serif", 19, "italic", 746, 103),
            ("(s)", "DejaVu Sans", 27, "normal", 793, 97)]
cb_layers = [cb_rects, cb_frame, cb_ticks]
for txt, f, s, st, xv, yv in cb_title:
    cb_layers.append(alt.Chart(ONE).mark_text(text=txt, font=f, fontSize=s, fontStyle=st, align="left",
                                              baseline="alphabetic", color="black")
                     .encode(x=alt.value(xv), y=alt.value(yv)))
cbar = alt.layer(*cb_layers).properties(width=CB_W, height=CB_H,
                                         view=alt.ViewBackground(strokeOpacity=0))

chart = alt.vconcat(panels, cbar, spacing=32).resolve_scale(
    x="independent", y="independent", color="independent"
).properties(
    padding={"left": 5, "top": 2, "right": 0, "bottom": 0}
).configure(font=FONT).configure_view(strokeOpacity=0)

chart.save("out.html", embed_options={"renderer": "svg", "actions": False})
